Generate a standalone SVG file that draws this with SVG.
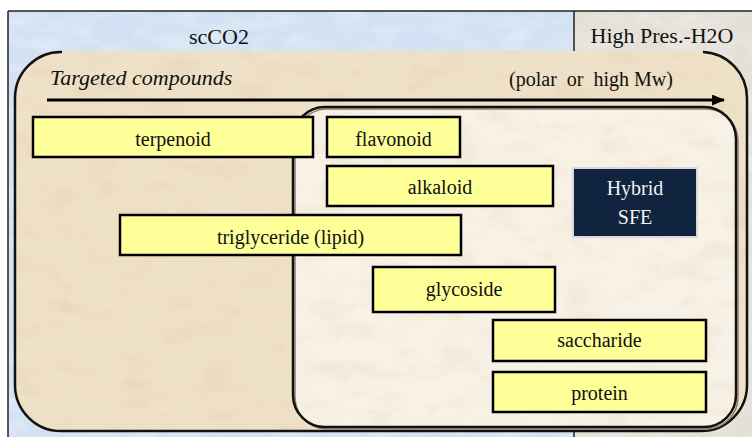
<svg xmlns="http://www.w3.org/2000/svg" width="752" height="437" viewBox="0 0 752 437">
<defs>
<filter id="tex" x="0" y="0" width="100%" height="100%">
<feTurbulence type="fractalNoise" baseFrequency="0.025 0.05" numOctaves="4" seed="4" result="n"/>
<feColorMatrix in="n" type="matrix" values="0 0 0 0 0.66  0 0 0 0 0.54  0 0 0 0 0.36  0.6 0 0 0 -0.27" result="c"/>
<feComposite in="c" in2="SourceGraphic" operator="atop"/>
</filter>
<filter id="texb" x="0" y="0" width="100%" height="100%">
<feTurbulence type="fractalNoise" baseFrequency="0.03 0.06" numOctaves="3" seed="9" result="n"/>
<feColorMatrix in="n" type="matrix" values="0 0 0 0 1  0 0 0 0 1  0 0 0 0 1  0.7 0 0 0 -0.3" result="c"/>
<feComposite in="c" in2="SourceGraphic" operator="atop"/>
</filter>
<marker id="ah" viewBox="0 0 12 10" refX="11" refY="5" markerWidth="13" markerHeight="11" markerUnits="userSpaceOnUse" orient="auto">
<path d="M0,0 L12,5 L0,10 Z" fill="#000"/>
</marker>
<style>
text{font-family:"Liberation Serif","DejaVu Serif","Times New Roman",serif;fill:#111;}
.lbl{font-size:20px;text-anchor:middle;}
.box{fill:#FFFF99;stroke:#000;stroke-width:2.5;}
.edge{fill:none;stroke:#111;stroke-width:2.5;}
.shd{fill:none;stroke:#8a8070;stroke-width:1.5;}
</style>
</defs>

<!-- background panels -->
<g id="panels">
<rect x="8" y="11" width="566" height="426" fill="#D2E1F3" filter="url(#texb)"/>
<rect x="574" y="11" width="178" height="426" fill="#E4E0D8" filter="url(#texb)"/>
<line x1="8" y1="11" x2="752" y2="11" stroke="#222" stroke-width="1.5"/>
<line x1="8" y1="11" x2="8" y2="437" stroke="#222" stroke-width="1.5"/>
<line x1="574" y1="11" x2="574" y2="437" stroke="#222" stroke-width="1.5"/>
<text x="219" y="44" font-size="22" text-anchor="middle">scCO2</text>
<text x="662" y="43" font-size="22" text-anchor="middle">High Pres.-H2O</text>
</g>

<!-- targeted compounds region -->
<g id="compounds-region">
<rect x="14" y="51" width="734" height="381" rx="46" ry="46" fill="#EFE1C7" filter="url(#tex)"/>
<path class="edge" d="M62,52 A46,46 0 0 0 15,98 L15,385 A46,46 0 0 0 61,431 L701,431 A46,46 0 0 0 747,385 L747,98 A46,46 0 0 0 703,52"/>
<text x="50" y="85" font-size="22" font-style="italic">Targeted compounds</text>
<text x="591" y="86" font-size="20" text-anchor="middle" style="white-space:pre">(polar  or  high Mw)</text>
</g>

<!-- hybrid region -->
<g id="hybrid-region">
<rect x="293" y="107" width="443" height="320" rx="32" ry="32" fill="#F8F2E6" filter="url(#tex)"/>
<rect x="295" y="109" width="443" height="320" rx="32" ry="32" class="shd"/>
<rect x="293" y="107" width="443" height="320" rx="32" ry="32" class="edge"/>
</g>

<!-- connectors -->
<g id="connectors">
<line x1="47" y1="100" x2="724" y2="100" stroke="#000" stroke-width="3" marker-end="url(#ah)"/>
</g>

<g id="terpenoid">
<rect class="box" x="33" y="117" width="280" height="40"/>
<text class="lbl" x="173" y="146">terpenoid</text>
</g>
<g id="flavonoid">
<rect class="box" x="327" y="117" width="133" height="40"/>
<text class="lbl" x="393.5" y="146">flavonoid</text>
</g>
<g id="alkaloid">
<rect class="box" x="327" y="166" width="226" height="40"/>
<text class="lbl" x="440" y="194">alkaloid</text>
</g>
<g id="triglyceride">
<rect class="box" x="120" y="215" width="341" height="40"/>
<text class="lbl" x="290.5" y="244">triglyceride (lipid)</text>
</g>
<g id="glycoside">
<rect class="box" x="373" y="267" width="182" height="45"/>
<text class="lbl" x="464" y="296">glycoside</text>
</g>
<g id="saccharide">
<rect class="box" x="493" y="320" width="213" height="41"/>
<text class="lbl" x="599.5" y="347">saccharide</text>
</g>
<g id="protein">
<rect class="box" x="493" y="372" width="213" height="40"/>
<text class="lbl" x="599.5" y="400">protein</text>
</g>
<g id="hybrid-sfe">
<rect x="573" y="168" width="124" height="69" fill="#10243F" stroke="#D8D8D8" stroke-width="2"/>
<text class="lbl" x="635" y="195" style="fill:#F2F2F2">Hybrid</text>
<text class="lbl" x="635" y="224" style="fill:#F2F2F2">SFE</text>
</g>
</svg>
